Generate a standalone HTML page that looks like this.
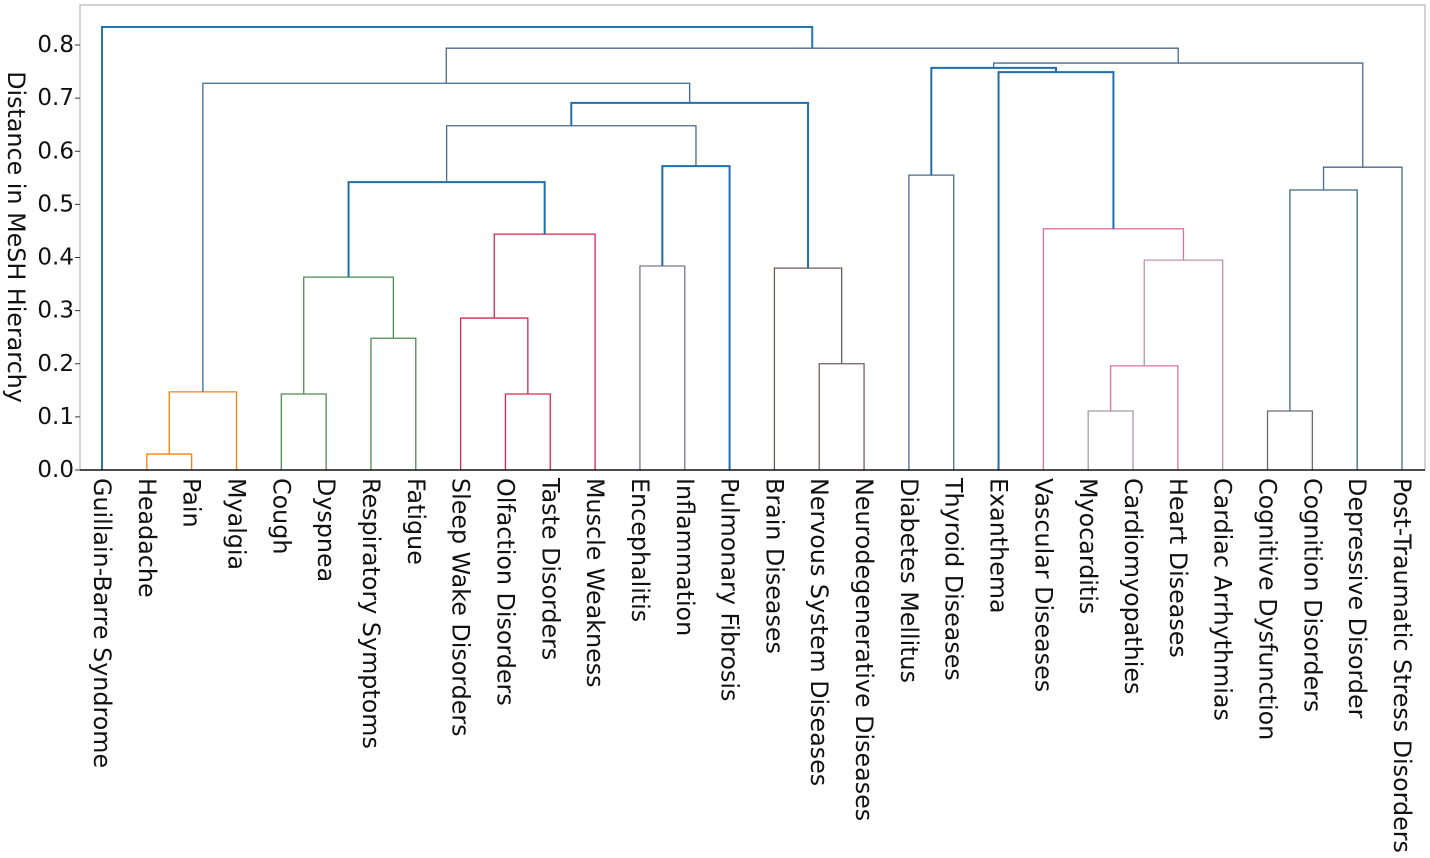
<!DOCTYPE html>
<html><head><meta charset="utf-8"><style>
html,body{margin:0;padding:0;background:#fff;}
svg{display:block;font-family:"DejaVu Sans","Liberation Sans",sans-serif;}
</style></head><body>
<svg id="chart" width="1430" height="858" viewBox="0 0 1430 858" xmlns="http://www.w3.org/2000/svg">
<rect x="0" y="0" width="1430" height="858" fill="#fff"/>
<g id="links"></g>
<g id="axes"></g>
</svg>
<script>
const leafLabels = ["Guillain-Barre Syndrome","Headache","Pain","Myalgia","Cough","Dyspnea","Respiratory Symptoms","Fatigue","Sleep Wake Disorders","Olfaction Disorders","Taste Disorders","Muscle Weakness","Encephalitis","Inflammation","Pulmonary Fibrosis","Brain Diseases","Nervous System Diseases","Neurodegenerative Diseases","Diabetes Mellitus","Thyroid Diseases","Exanthema","Vascular Diseases","Myocarditis","Cardiomyopathies","Heart Diseases","Cardiac Arrhythmias","Cognitive Dysfunction","Cognition Disorders","Depressive Disorder","Post-Traumatic Stress Disorders"];
// merges: left child, right child (indices; >=30 refer to earlier merges)
const mergeLeft  = [1,30,4,6,32,9,8,36,34,12,39,38,16,15,41,31,18,22,47,48,21,20,46,26,53,54,52,45,0];
const mergeRight = [2,3,5,7,33,10,35,11,37,13,14,40,17,42,43,44,19,23,24,25,49,50,51,27,28,29,55,56,57];
const mergeHeight = [0.030,0.147,0.143,0.248,0.363,0.143,0.286,0.444,0.542,0.384,0.572,0.648,0.200,0.380,0.691,0.728,0.555,0.111,0.196,0.395,0.454,0.749,0.757,0.111,0.527,0.570,0.766,0.794,0.834];
const mergeColor = ["#ff7f0e","#ff7f0e","#4f8a55","#4f8a55","#4f8a55","#d62750","#d62750","#d62750","#1f6fae","#7d7490","#1f6fae","#4a6a8c","#7a5c5c","#6e5858","#1f6fae","#3d6a96","#4a6a8c","#a89aa8","#e0709e","#c090a8","#e0709e","#1f6fae","#1f6fae","#6a6a78","#3a6a80","#4a6a8c","#4a6a8c","#4a6a8c","#1f77b4"];
const yTicks = [0.0,0.1,0.2,0.3,0.4,0.5,0.6,0.7,0.8];

const NS="http://www.w3.org/2000/svg";
const plotL=80, plotR=1425, plotT=5, plotB=470;
const xLeaf = i => 102 + i*(1300/(leafLabels.length-1));
const yScale = d => plotB - d*531.25;
const nodeX=[], nodeY=[];
leafLabels.forEach((l,i)=>{nodeX[i]=xLeaf(i); nodeY[i]=0;});
const links=document.getElementById('links');
const axes=document.getElementById('axes');
function mk(tag,attrs,parent){const e=document.createElementNS(NS,tag);for(const k in attrs)e.setAttribute(k,attrs[k]);parent.appendChild(e);return e;}
const n=leafLabels.length;
mergeLeft.forEach((a,k)=>{
  const b=mergeRight[k], h=mergeHeight[k];
  const xa=nodeX[a], xb=nodeX[b];
  nodeX[n+k]=(xa+xb)/2; nodeY[n+k]=h;
  const thick = mergeColor[k]==="#1f6fae"||mergeColor[k]==="#1f77b4";
  const p=mk('path',{d:`M${xa},${yScale(nodeY[a])}V${yScale(h)}H${xb}V${yScale(nodeY[b])}`,fill:'none',stroke:mergeColor[k],'stroke-width':thick?2:1.3},links);
  
  
});
const box=mk('rect',{x:plotL,y:plotT,width:plotR-plotL,height:plotB-plotT,fill:'none',stroke:'#aaa','stroke-width':1},axes);


const xa=mk('line',{x1:plotL,x2:plotR,y1:plotB,y2:plotB,stroke:'#111','stroke-width':1.5},axes);


yTicks.forEach(t=>{
  const y=yScale(t);
  mk('line',{x1:plotL-5,x2:plotL,y1:y,y2:y,stroke:'#333','stroke-width':1},axes);
  const tx=mk('text',{x:plotL-6,y:y,'text-anchor':'end','dominant-baseline':'central','font-size':23,fill:'#111'},axes);
  tx.textContent=t.toFixed(1);
  
  
});
leafLabels.forEach((l,i)=>{
  const x=xLeaf(i);
  const tx=mk('text',{transform:`translate(${x},478) rotate(90)`,'text-anchor':'start','dominant-baseline':'central','font-size':23.8,fill:'#111'},axes);
  tx.textContent=l;
  
  
});
const yt=mk('text',{transform:'translate(16,237) rotate(90)','text-anchor':'middle','dominant-baseline':'central','font-size':23.8,fill:'#111'},axes);
yt.textContent='Distance in MeSH Hierarchy';


</script>
</body></html>
